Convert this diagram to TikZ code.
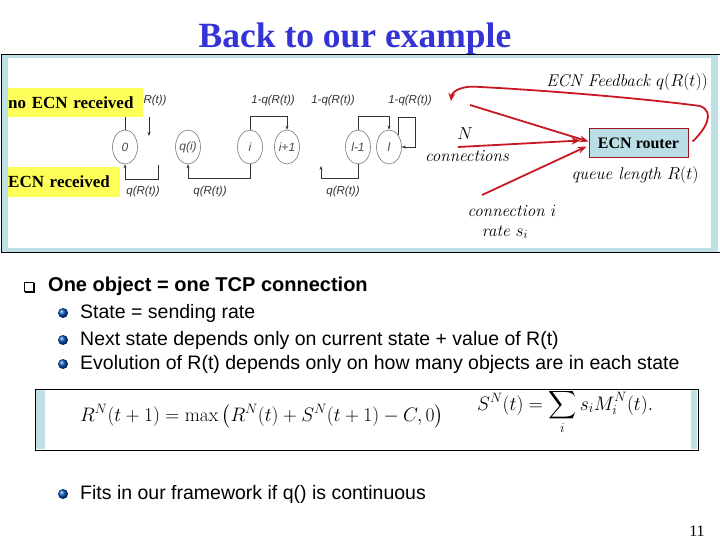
\documentclass[tikz,border=0pt]{standalone}
\usepackage{fontspec}
\usepackage{amsmath}
\usepackage{graphicx}
\newfontfamily\tms{Liberation Serif}
\newfontfamily\arl{Liberation Sans}
\usetikzlibrary{arrows.meta,shapes.geometric}
\definecolor{ttl}{RGB}{51,51,214}
\definecolor{pblue}{RGB}{190,224,230}
\definecolor{ylw}{RGB}{255,255,90}
\definecolor{rd}{RGB}{200,25,35}
\definecolor{rbox}{RGB}{185,222,230}
\definecolor{gry}{RGB}{120,120,120}
\begin{document}
\begin{tikzpicture}[x=1pt,y=-1pt,
 st/.style={ellipse,draw=gry,line width=0.6pt,minimum width=25pt,minimum height=34pt,inner sep=0pt,font=\arl\itshape\fontsize{12}{12}\selectfont,text=black!70},
 ln/.style={line width=0.6pt,draw=black!80},
 tip/.style={-{Stealth[length=4pt,width=3pt]}},
 lbl/.style={font=\arl\itshape\fontsize{11.5}{11.5}\selectfont,inner sep=0pt,text=black!80},
 yb/.style={fill=ylw,inner sep=0pt,font=\tms\bfseries\fontsize{17}{17}\selectfont,anchor=west,align=left},
 ra/.style={draw=rd,line width=1.8pt,-{Stealth[length=9pt,width=7pt]}},
 it/.style={font=\itshape\fontsize{17}{17}\selectfont,inner sep=0pt},
 bul/.style={circle,minimum size=10pt,inner sep=0pt,ball color=blue!55!cyan!70!black},
 btxt/.style={font=\arl\fontsize{19.5}{19.5}\selectfont,anchor=west,inner sep=0pt},
 fml/.style={anchor=base west,font=\fontsize{17.28}{17.28}\selectfont,inner sep=0pt}
]
\useasboundingbox (0,0) rectangle (720,540);
\fill[white] (0,0) rectangle (720,540);
% title
\node[font=\tms\bfseries\fontsize{35.5}{35.5}\selectfont,text=ttl] (title) at (355,39) {Back to our example};
% top panel
\fill[pblue] (1,55) rectangle (718,252);
\fill[white] (8,58) rectangle (711,248);
\draw[line width=1pt] (720,55) -- (1,55) -- (1,252) -- (720,252);
% states
\node[st] (s0) at (125,147) {0};
\node[st] (sq) at (188,147) {q(i)};
\node[st] (si) at (250,147) {i};
\node[st] (sip) at (287,147) {i+1};
\node[st] (slm) at (358,147) {l-1};
\node[st] (sl) at (389,147) {l};
\coordinate (c0t) at (125,117);
\coordinate (c0a) at (149,117);
\coordinate (c0b) at (149,136);
\coordinate (c0r) at (158,165);
\coordinate (c1) at (321,166);
\coordinate (la) at (415,117);
\draw[ln] (s0.north) -- (c0t);
\draw[ln,tip] (c0a) -- (c0b);
\draw[ln,tip] (c0r) -- ++(0,14) -| (s0.south);
\draw[ln,tip] (si.north) -- ++(0,-13) -| (sip.north);
\draw[ln,tip] (si.south) -- ++(0,14) -| (sq.south);
\draw[ln,tip] (slm.north) -- ++(0,-13) -| (sl.north);
\draw[ln,tip] (slm.south) -- ++(0,14) -| (c1);
\draw[ln,tip] (sl.north east) |- (la) |- (sl.east);
% transition labels
\node[lbl] (l0) at (155,101) {R(t))};
\node[lbl] (l1) at (273,101) {1-q(R(t))};
\node[lbl] (l2) at (333,101) {1-q(R(t))};
\node[lbl] (l3) at (410,101) {1-q(R(t))};
\node[lbl] (l4) at (143,192) {q(R(t))};
\node[lbl] (l5) at (210,192) {q(R(t))};
\node[lbl] (l6) at (343,192) {q(R(t))};
% yellow boxes
\node[yb,text width=135pt,minimum height=29pt] (noecn) at (8,102.5) {no ECN received};
\node[yb,text width=112pt,minimum height=30pt] (ecn) at (8,182) {ECN received};
% router
\node[draw=rd!80!black,fill=rbox,line width=1pt,minimum width=99pt,minimum height=29pt,font=\tms\bfseries\fontsize{16}{16}\selectfont,inner sep=0pt] (router) at (638.5,143.5) {ECN router};
\node[it,anchor=east] (fb) at (708,82) {ECN Feedback $q(R(t))$};
\node[it] (nn) at (465,134) {$N$};
\node[it] (conn) at (467,156) {connections};
\node[it] (ql) at (635,175) {queue length $R(t)$};
\node[it] (ci) at (512,211) {connection $i$};
\node[it] (rs) at (505,232) {rate $s_i$};
\coordinate (a1) at (470,105);
\coordinate (a2) at (458,147);
\coordinate (a3) at (482,195);
\draw[ra] (a1) -- ([yshift=2pt]router.west);
\draw[ra] (a2) -- ([xshift=-8pt,yshift=3pt]router.west);
\draw[ra] (a3) -- ([xshift=-2pt,yshift=-3pt]router.west);
\draw[rd,line width=1.8pt,-{Stealth[length=8pt,width=7pt]}] ([xshift=4pt,yshift=2pt]router.east) .. controls (705,130) and (716,112) .. (700,106) .. controls (640,98) and (540,90) .. (480,87) .. controls (460,85) and (452,92) .. (451,101);
% bullets
\draw[line width=0.9pt] (24,282) rectangle (33,291);
\draw[line width=1.4pt] (34,283) -- (34,292) -- (25,292);
\node[font=\arl\bfseries\fontsize{20}{20}\selectfont,anchor=west,inner sep=0pt] (h1) at (48,286) {One object = one TCP connection};
\node[bul] (b1) at (63,313) {};
\node[btxt] (t1) at (80,313) {State = sending rate};
\node[bul] (b2) at (63,340) {};
\node[btxt] (t2) at (80,340) {Next state depends only on current state + value of R(t)};
\node[bul] (b3) at (63,364) {};
\node[btxt] (t3) at (80,364) {Evolution of R(t) depends only on how many objects are in each state};
% formula box
\fill[white] (35,389) rectangle (698,450);
\fill[pblue] (36,390) rectangle (45,449);
\fill[pblue] (691,390) rectangle (697,449);
\draw[line width=1pt] (35,389) rectangle (698,450);
\node[fml] (f1) at (80,421) {\scalebox{1.13}{$R^N(t+1)=\max\left(R^N(t)+S^N(t+1)-C,0\right)$}};
\node[fml] (f2) at (477,410) {\scalebox{1.13}{$S^N(t)=\displaystyle\sum_i s_iM_i^N(t).$}};
\node[bul] (b4) at (63,494) {};
\node[btxt] (t4) at (80,494) {Fits in our framework if q() is continuous};
\node[font=\tms\fontsize{16}{16}\selectfont] (pg) at (697,531) {11};
\end{tikzpicture}
\end{document}
